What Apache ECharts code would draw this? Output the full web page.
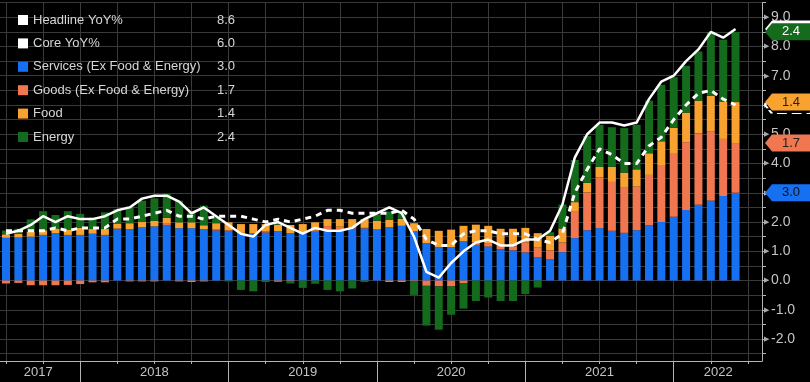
<!DOCTYPE html>
<html><head><meta charset="utf-8">
<script src="https://cdn.jsdelivr.net/npm/echarts@6/dist/echarts.min.js"></script>
<style>html,body{margin:0;padding:0;background:#000;}#c{width:810px;height:382px;}</style>
</head><body><div id="c"></div>
<script>
// Monthly data, Jun 2017 .. May 2022 (index 0 = Jun 2017)
const months = [];
for (let k = 0; k < 60; k++) { const m = 5 + k; months.push((2017 + Math.floor(m / 12)) + '-' + String(m % 12 + 1).padStart(2, '0')); }

const headline = [1.6,1.7,1.9,2.2,2.0,2.2,2.1,
  2.1,2.2,2.4,2.5,2.8,2.9,2.9,2.7,2.3,2.5,2.2,1.9,
  1.6,1.5,1.9,2.0,1.8,1.6,1.8,1.7,1.7,1.8,2.1,2.3,
  2.5,2.3,1.5,0.3,0.1,0.6,1.0,1.3,1.4,1.2,1.2,1.4,
  1.4,1.7,2.6,4.2,5.0,5.4,5.4,5.3,5.4,6.2,6.8,7.0,
  7.5,7.9,8.5,8.3,8.6];
const core = [1.7,1.7,1.7,1.7,1.8,1.7,1.8,
  1.8,1.8,2.1,2.1,2.2,2.3,2.4,2.2,2.2,2.1,2.2,2.2,
  2.2,2.1,2.0,2.1,2.0,2.1,2.2,2.4,2.4,2.3,2.3,2.3,
  2.3,2.4,2.1,1.4,1.2,1.2,1.6,1.7,1.7,1.6,1.6,1.6,
  1.4,1.3,1.6,3.0,3.8,4.5,4.3,4.0,4.0,4.6,4.9,5.5,
  6.0,6.4,6.5,6.2,6.0];
const services = [1.46,1.47,1.50,1.56,1.62,1.56,1.56,
  1.60,1.56,1.76,1.76,1.83,1.85,1.90,1.79,1.79,1.76,1.71,1.70,
  1.61,1.61,1.64,1.69,1.62,1.64,1.67,1.76,1.76,1.78,1.78,1.74,
  1.83,1.87,1.68,1.28,1.14,1.14,1.34,1.22,1.16,1.07,1.03,0.96,
  0.80,0.72,0.97,1.45,1.72,1.79,1.70,1.63,1.72,1.89,2.00,2.18,
  2.41,2.59,2.73,2.89,3.0];
const goods = [-0.10,-0.08,-0.16,-0.16,-0.16,-0.15,-0.12,
  -0.06,-0.06,0.02,-0.03,-0.03,-0.03,0.04,-0.03,-0.05,-0.03,0.03,0.02,
  0.02,0.00,0.04,-0.04,-0.03,0.02,0.05,0.10,0.08,0.04,0.05,0.02,
  -0.05,-0.05,-0.03,-0.18,-0.20,-0.20,-0.10,0.08,0.12,0.12,0.14,0.34,
  0.34,0.31,0.33,0.90,1.29,1.74,1.67,1.54,1.49,1.72,1.92,2.15,
  2.32,2.44,2.36,1.95,1.7];
const food = [0.12,0.13,0.17,0.16,0.16,0.18,0.24,
  0.16,0.20,0.17,0.20,0.17,0.19,0.20,0.20,0.20,0.13,0.22,0.27,
  0.30,0.32,0.25,0.22,0.28,0.27,0.27,0.24,0.26,0.28,0.27,0.28,
  0.25,0.24,0.28,0.48,0.56,0.60,0.53,0.61,0.59,0.58,0.60,0.50,
  0.48,0.50,0.48,0.33,0.33,0.36,0.52,0.52,0.59,0.74,0.84,0.89,
  1.01,1.12,1.22,1.28,1.4];
const energy = [0.13,0.17,0.42,0.65,0.46,0.63,0.48,
  0.39,0.57,0.49,0.57,0.73,0.77,0.82,0.74,0.34,0.67,0.20,-0.03,
  -0.32,-0.37,-0.05,0.10,-0.07,-0.25,-0.11,-0.32,-0.37,-0.27,-0.05,0.22,
  0.28,0.16,-0.46,-1.36,-1.48,-0.97,-0.86,-0.70,-0.58,-0.70,-0.70,-0.46,
  -0.24,0.12,0.82,1.44,1.60,1.43,1.35,1.52,1.52,1.80,1.93,1.73,
  1.60,1.68,2.18,2.11,2.4];

const seriesNames = ['Headline YoY%','Core YoY%','Services (Ex Food & Energy)','Goods (Ex Food & Energy)','Food','Energy'];
const yearLabels = ['2017','2018','2019','2020','2021','2022'];
const yearLabelPos = [2.6, 12, 24, 36, 48, 57.6];
const yearBoundaries = [6, 18, 30, 42, 54];
const quarterTicks = [0,3,6,9,12,15,18,21,24,27,30,33,36,39,42,45,48,51,54,57,60];
const yTicks = [-2.5,-2,-1.5,-1,-0.5,0,0.5,1,1.5,2,2.5,3,3.5,4,4.5,5,5.5,6,6.5,7,7.5,8,8.5,9,9.5];
const yLabels = [-2,-1,0,1,2,3,4,5,6,7,8,9];

const X_MIN = -0.485, X_MAX = 61.14;   // x axis in month-index units (0 = Jun 2017)
const FONT = '"Liberation Sans", Arial, sans-serif';
const GRID = '#3a3a3a';
const AXIS = '#b4b4b4';
const TXT = '#c4c4c4';
const COL = { services: '#1670f2', goods: '#f0774f', food: '#f8a230', energy: '#156b1c' };
const TAG_PATH = 'path://M0,8.5 L7,0 L46,0 L46,17 L7,17 Z';

// value first, month index second -> value dimension is the stacked one
const pts = arr => arr.map((v, i) => [v, i]);
const ENC = { x: 1, y: 0 };
const last = arr => arr[arr.length - 1];
const lastVals = {};
[headline, core, services, goods, food, energy].forEach((a, i) => { lastVals[seriesNames[i]] = last(a).toFixed(1); });

function tagMP(yVal, text, fill, color, z, dashed) {
  return {
    silent: true, z: z, symbol: TAG_PATH, symbolSize: [46, 17], symbolOffset: [26, 0],
    label: { show: true, position: 'inside', formatter: text, color: color, fontSize: 13, fontFamily: FONT, offset: [3, 0] },
    itemStyle: dashed ? { color: '#000', borderColor: '#fff', borderWidth: 1.5, borderType: 'dashed' } : { color: fill },
    data: [{ coord: [X_MAX, yVal] }]
  };
}

const tS = last(services), tG = tS + last(goods), tF = tG + last(food), tE = tF + last(energy);

const bar = (name, arr, color, mp) => ({
  name: name, type: 'bar', stack: 'cpi', barWidth: 8, data: pts(arr), encode: ENC,
  itemStyle: { color: color }, z: 2, markPoint: mp
});

const chart = echarts.init(document.getElementById('c'));
chart.setOption({
  backgroundColor: '#000',
  animation: false,
  textStyle: { fontFamily: FONT },
  grid: { left: 0, right: 48, top: 2.6, bottom: 21 },
  legend: {
    orient: 'vertical', left: 13, top: 8, itemWidth: 10, itemHeight: 10, itemGap: 9.4,
    selectedMode: false,
    data: [
      { name: seriesNames[0], icon: 'rect' },
      { name: seriesNames[1], icon: 'rect' },
      { name: seriesNames[2], icon: 'rect' },
      { name: seriesNames[3], icon: 'rect' },
      { name: seriesNames[4], icon: 'rect' },
      { name: seriesNames[5], icon: 'rect' }
    ],
    formatter: name => '{n|' + name + '}{v|' + lastVals[name] + '}',
    textStyle: {
      color: '#d6d6d6', fontSize: 13, fontFamily: FONT, lineHeight: 14,
      rich: {
        n: { width: 184, color: '#d6d6d6', fontSize: 13, fontFamily: FONT },
        v: { color: '#d6d6d6', fontSize: 13, fontFamily: FONT }
      }
    }
  },
  xAxis: [
    {
      type: 'value', min: X_MIN, max: X_MAX, position: 'bottom',
      axisLine: { show: true, onZero: false, lineStyle: { color: AXIS } },
      axisTick: { show: true, customValues: quarterTicks, length: 3, lineStyle: { color: AXIS } },
      axisLabel: { show: false },
      splitLine: { show: true, lineStyle: { color: GRID } }
    },
    {
      type: 'value', min: X_MIN, max: X_MAX, position: 'bottom',
      axisLine: { show: false, onZero: false },
      axisTick: { show: true, customValues: yearBoundaries, length: 21, lineStyle: { color: AXIS } },
      axisLabel: {
        show: true, customValues: yearLabelPos, margin: 5, color: TXT, fontSize: 13, fontFamily: FONT,
        formatter: v => { let best = 0; yearLabelPos.forEach((p, i) => { if (Math.abs(p - v) < Math.abs(yearLabelPos[best] - v)) best = i; }); return yearLabels[best]; }
      },
      splitLine: { show: false }
    }
  ],
  yAxis: {
    type: 'value', position: 'right', min: -2.75, max: 9.5,
    axisLine: { show: true, onZero: false, lineStyle: { color: AXIS } },
    axisTick: { show: true, customValues: yTicks, length: 4, lineStyle: { color: AXIS } },
    axisLabel: {
      show: true, customValues: yLabels, margin: 2, color: TXT, fontSize: 14, fontFamily: FONT,
      formatter: v => '{a|\u25B6}' + v.toFixed(1),
      rich: { a: { fontSize: 7, color: '#aaaaaa', padding: [0, 2, 0, 0] } }
    },
    splitLine: { show: true, lineStyle: { color: GRID } }
  },
  series: [
    bar(seriesNames[2], services, COL.services, tagMP(tS, last(services).toFixed(1), COL.services, '#111', 6)),
    bar(seriesNames[3], goods, COL.goods, tagMP(tG, last(goods).toFixed(1), COL.goods, '#222', 6)),
    bar(seriesNames[4], food, COL.food, tagMP(tF, last(food).toFixed(1), COL.food, '#222', 7)),
    bar(seriesNames[5], energy, COL.energy, tagMP(tE, last(energy).toFixed(1), COL.energy, '#fff', 7)),
    {
      name: seriesNames[1], type: 'line', data: pts(core), encode: ENC, symbol: 'none', z: 4,
      lineStyle: { color: '#ffffff', width: 3, type: [6, 5], cap: 'butt' },
      itemStyle: { color: '#ffffff' },
      markPoint: tagMP(last(core), last(core).toFixed(1), '#000', '#fff', 5, true)
    },
    {
      name: seriesNames[0], type: 'line', data: pts(headline), encode: ENC, symbol: 'none', z: 5,
      lineStyle: { color: '#ffffff', width: 2.5 },
      itemStyle: { color: '#ffffff' },
      markPoint: tagMP(last(headline), last(headline).toFixed(1), '#ffffff', '#111', 5)
    }
  ]
});
</script>
</body></html>
